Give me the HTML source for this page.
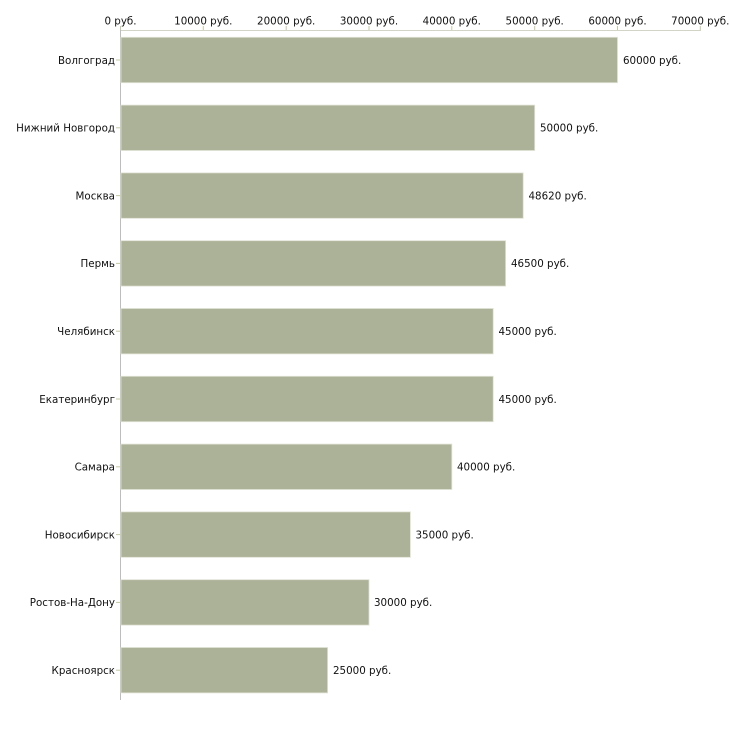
<!DOCTYPE html>
<html><head><meta charset="utf-8"><style>
html,body{margin:0;padding:0;background:#fff;}
svg{display:block;}
text{font-family:"DejaVu Sans","Liberation Sans",sans-serif;font-size:10.3px;fill:#111;}
</style></head><body>
<svg width="730" height="730" viewBox="0 0 730 730" xmlns="http://www.w3.org/2000/svg">
<line x1="120.5" y1="30.5" x2="701" y2="30.5" stroke="#d2d4c6" stroke-width="1"/>
<g stroke="#c4c8a4" stroke-width="1">
<line x1="120.5" y1="26" x2="120.5" y2="30"/>
<line x1="203.3" y1="26" x2="203.3" y2="30"/>
<line x1="286.2" y1="26" x2="286.2" y2="30"/>
<line x1="369" y1="26" x2="369" y2="30"/>
<line x1="451.8" y1="26" x2="451.8" y2="30"/>
<line x1="534.7" y1="26" x2="534.7" y2="30"/>
<line x1="617.5" y1="26" x2="617.5" y2="30"/>
<line x1="700.3" y1="26" x2="700.3" y2="30"/>
</g>
<g text-anchor="middle">
<text x="120.5" y="24.3">0 руб.</text>
<text x="203.3" y="24.3">10000 руб.</text>
<text x="286.2" y="24.3">20000 руб.</text>
<text x="369" y="24.3">30000 руб.</text>
<text x="451.8" y="24.3">40000 руб.</text>
<text x="534.7" y="24.3">50000 руб.</text>
<text x="617.5" y="24.3">60000 руб.</text>
<text x="700.3" y="24.3">70000 руб.</text>
</g>
<line x1="120.5" y1="30" x2="120.5" y2="700" stroke="#bdbdbd" stroke-width="1"/>
<g fill="#acb297" stroke="#dfe2d4" stroke-width="0.8">
<rect x="121" y="37.3" width="496.5" height="45.4"/>
<rect x="121" y="105.1" width="413.7" height="45.4"/>
<rect x="121" y="172.9" width="402.2" height="45.4"/>
<rect x="121" y="240.7" width="384.6" height="45.4"/>
<rect x="121" y="308.5" width="372.2" height="45.4"/>
<rect x="121" y="376.3" width="372.2" height="45.4"/>
<rect x="121" y="444.1" width="330.8" height="45.4"/>
<rect x="121" y="511.9" width="289.4" height="45.4"/>
<rect x="121" y="579.7" width="248" height="45.4"/>
<rect x="121" y="647.5" width="206.6" height="45.4"/>
</g>
<g stroke="#c4c8a4" stroke-width="1">
<line x1="116" y1="60" x2="120" y2="60"/>
<line x1="116" y1="127.8" x2="120" y2="127.8"/>
<line x1="116" y1="195.6" x2="120" y2="195.6"/>
<line x1="116" y1="263.4" x2="120" y2="263.4"/>
<line x1="116" y1="331.2" x2="120" y2="331.2"/>
<line x1="116" y1="399" x2="120" y2="399"/>
<line x1="116" y1="466.8" x2="120" y2="466.8"/>
<line x1="116" y1="534.6" x2="120" y2="534.6"/>
<line x1="116" y1="602.4" x2="120" y2="602.4"/>
<line x1="116" y1="670.2" x2="120" y2="670.2"/>
</g>
<g text-anchor="end">
<text x="115" y="63.8">Волгоград</text>
<text x="115" y="131.6">Нижний Новгород</text>
<text x="115" y="199.4">Москва</text>
<text x="115" y="267.2">Пермь</text>
<text x="115" y="335">Челябинск</text>
<text x="115" y="402.8">Екатеринбург</text>
<text x="115" y="470.6">Самара</text>
<text x="115" y="538.4">Новосибирск</text>
<text x="115" y="606.2">Ростов-На-Дону</text>
<text x="115" y="674">Красноярск</text>
</g>
<g>
<text x="623" y="63.8">60000 руб.</text>
<text x="540" y="131.6">50000 руб.</text>
<text x="528.5" y="199.4">48620 руб.</text>
<text x="511" y="267.2">46500 руб.</text>
<text x="498.5" y="335">45000 руб.</text>
<text x="498.5" y="402.8">45000 руб.</text>
<text x="457" y="470.6">40000 руб.</text>
<text x="415.5" y="538.4">35000 руб.</text>
<text x="374" y="606.2">30000 руб.</text>
<text x="333" y="674">25000 руб.</text>
</g>
</svg>
</body></html>
